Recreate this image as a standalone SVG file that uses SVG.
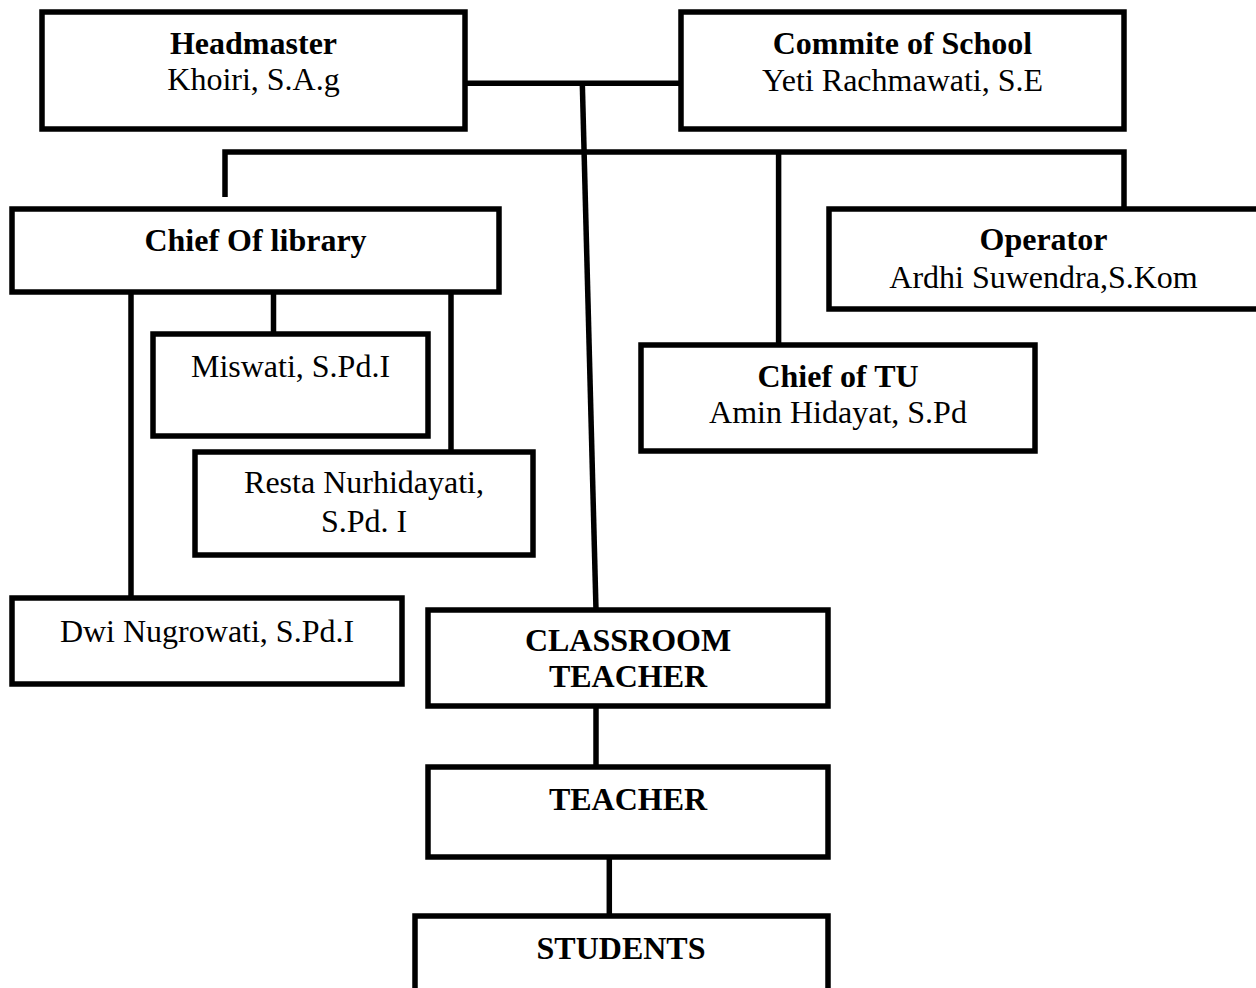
<svg xmlns="http://www.w3.org/2000/svg" width="1256" height="988" viewBox="0 0 1256 988">
<style>
.box{fill:#fff;stroke:#000;stroke-width:5.5}
.ln{fill:none;stroke:#000;stroke-width:5.5}
text{font-size:32px;fill:#000;text-anchor:middle}
.b{font-weight:bold}
</style>
<rect width="1256" height="988" fill="#fff"/>
<g id="connectors">
<path class="ln" d="M465,83.3 H681"/>
<path class="ln" d="M582.3,83 L596,610"/>
<path class="ln" d="M225,197 V152 H1124 V209"/>
<path class="ln" d="M778.6,152 V345"/>
<path class="ln" d="M131,292 V598"/>
<path class="ln" d="M273.5,292 V334"/>
<path class="ln" d="M451,292 V452"/>
<path class="ln" d="M596,706 V767"/>
<path class="ln" d="M609.3,857 V916"/>
</g>
<g font-family="Liberation Serif, Times New Roman, Times, serif">
<g id="headmaster"><rect class="box" x="42" y="12" width="423" height="117"/><text class="b" x="253.5" y="54">Headmaster</text><text x="253.5" y="90">Khoiri, S.A.g</text></g>
<g id="committee"><rect class="box" x="681" y="12" width="443" height="117"/><text class="b" x="902.5" y="54">Commite of School</text><text x="902.5" y="91">Yeti Rachmawati, S.E</text></g>
<g id="library"><rect class="box" x="12" y="209" width="487" height="83"/><text class="b" x="255.5" y="251">Chief Of library</text></g>
<g id="operator"><rect class="box" x="829" y="209" width="430" height="100"/><text class="b" x="1043.5" y="250">Operator</text><text x="1043.5" y="288">Ardhi Suwendra,S.Kom</text></g>
<g id="tu"><rect class="box" x="641" y="345" width="394" height="106"/><text class="b" x="838" y="387">Chief of TU</text><text x="838" y="423">Amin Hidayat, S.Pd</text></g>
<g id="miswati"><rect class="box" x="153" y="334" width="275" height="102"/><text x="290.5" y="377">Miswati, S.Pd.I</text></g>
<g id="resta"><rect class="box" x="195" y="452" width="338" height="103"/><text x="364" y="493">Resta Nurhidayati,</text><text x="364" y="532">S.Pd. I</text></g>
<g id="dwi"><rect class="box" x="12" y="598" width="390" height="86"/><text x="207" y="642">Dwi Nugrowati, S.Pd.I</text></g>
<g id="classroom"><rect class="box" x="428" y="610" width="400" height="96"/><text class="b" x="628" y="651">CLASSROOM</text><text class="b" x="628" y="687">TEACHER</text></g>
<g id="teacher"><rect class="box" x="428" y="767" width="400" height="90"/><text class="b" x="628" y="810">TEACHER</text></g>
<g id="students"><rect class="box" x="415" y="916" width="413" height="100"/><text class="b" x="621" y="959">STUDENTS</text></g>
</g>
</svg>
